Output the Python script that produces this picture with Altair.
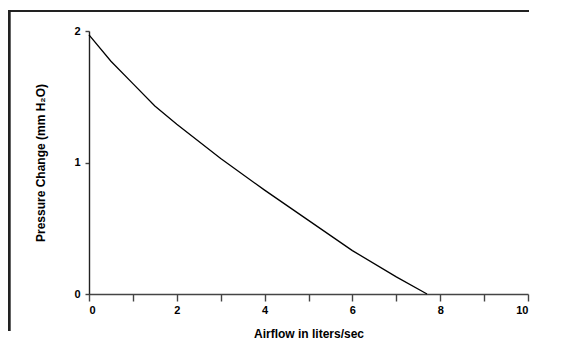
import altair as alt
import pandas as pd

airflow = [0, 0.5, 1, 1.5, 2, 3, 4, 5, 6, 7, 7.7]
pressure = [1.97, 1.77, 1.6, 1.43, 1.29, 1.03, 0.79, 0.56, 0.33, 0.13, 0.0]
x_ticks = [0, 1, 2, 3, 4, 5, 6, 7, 8, 9, 10]
y_ticks = [0, 1, 2]

df = pd.DataFrame({"airflow": airflow, "pressure": pressure})
FONT = "Liberation Sans"

line = alt.Chart(df).mark_line(color="black", strokeWidth=1.3, clip=False).encode(
    x=alt.X("airflow:Q",
            scale=alt.Scale(domain=[0, 10], nice=False, zero=False),
            axis=alt.Axis(values=x_ticks, title="Airflow in liters/sec",
                          labelExpr="datum.value % 2 == 0 ? format(datum.value, 'd') : ''",
                          grid=False, domainColor="#444", domainWidth=1.6,
                          tickColor="#444", tickWidth=1.4, tickSize=7,
                          labelPadding=3, titlePadding=13,
                          labelFont=FONT, labelFontWeight="bold", labelFontSize=11,
                          labelColor="black",
                          titleFont=FONT, titleFontWeight="bold", titleFontSize=12,
                          titleColor="black")),
    y=alt.Y("pressure:Q",
            scale=alt.Scale(domain=[0, 2], nice=False),
            axis=alt.Axis(values=y_ticks, title="Pressure Change (mm H₂O)",
                          labelExpr="format(datum.value, 'd')",
                          labelOverlap=False,
                          grid=False, domainColor="#222", domainWidth=1.4,
                          tickColor="#444", tickWidth=1.4, tickSize=4,
                          labelPadding=5,
                          titlePadding=26,
                          labelFont=FONT, labelFontWeight="bold", labelFontSize=11,
                          labelColor="black",
                          titleFont=FONT, titleFontWeight="bold", titleFontSize=12,
                          titleColor="black")),
)

# outer frame: top and left edges only
top_edge = alt.Chart(df).mark_rule(color="#222", strokeWidth=2.2, clip=False).encode(
    x=alt.value(-81), x2=alt.value(440), y=alt.value(-20)
)
left_edge = alt.Chart(df).mark_rule(color="#222", strokeWidth=2.2, clip=False).encode(
    x=alt.value(-80), y=alt.value(-21), y2=alt.value(300)
)

chart = alt.layer(top_edge, left_edge, line).properties(
    width=439, height=263,
    autosize=alt.AutoSizeParams(type="none"),
    padding={"left": 81, "top": 23, "right": 29, "bottom": 50},
).configure_view(stroke=None)

chart.save("out.html", embed_options={"renderer": "svg", "actions": False})
